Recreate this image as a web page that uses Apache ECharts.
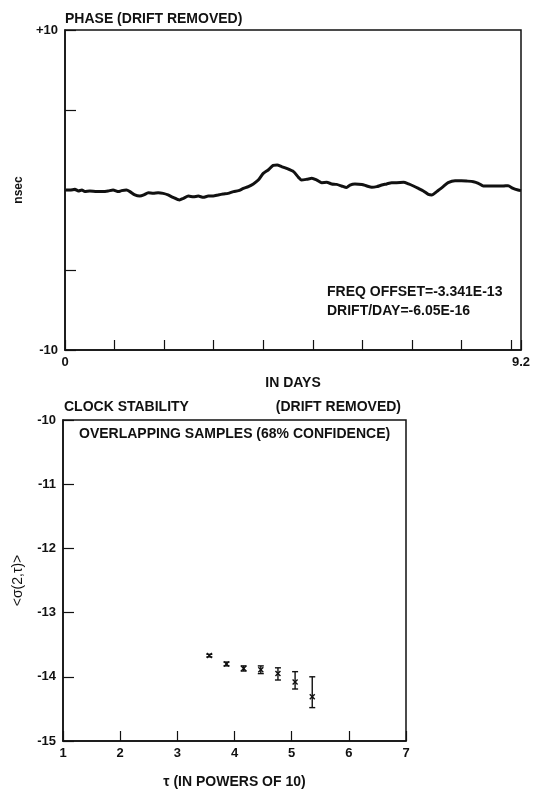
<!DOCTYPE html>
<html>
<head>
<meta charset="utf-8">
<script src="https://cdn.jsdelivr.net/npm/echarts@6/dist/echarts.min.js"></script>
<style>
html,body{margin:0;padding:0;background:#fff;}
#chart{width:534px;height:790px;}
</style>
</head>
<body>
<div id="chart"></div>
<script>
// Phase (drift removed), nsec vs days
const phaseDays = [0.02,0.10,0.20,0.27,0.34,0.40,0.50,0.64,0.77,0.87,0.97,1.08,1.14,1.24,1.31,1.41,1.51,1.59,1.68,1.78,1.88,1.98,2.08,2.18,2.31,2.39,2.49,2.59,2.69,2.79,2.89,2.99,3.09,3.19,3.29,3.40,3.50,3.60,3.70,3.80,3.90,4.00,4.10,4.20,4.28,4.37,4.47,4.61,4.71,4.77,4.88,4.98,5.08,5.18,5.28,5.38,5.48,5.58,5.68,5.75,5.85,5.99,6.09,6.19,6.29,6.39,6.49,6.59,6.69,6.83,6.93,7.03,7.13,7.23,7.33,7.40,7.50,7.63,7.73,7.87,8.00,8.10,8.24,8.34,8.44,8.57,8.71,8.84,8.94,9.04,9.14,9.20];
const phaseNsec = [0.00,0.00,0.04,-0.06,0.00,-0.10,-0.06,-0.10,-0.10,-0.06,0.00,-0.10,-0.04,0.00,-0.10,-0.31,-0.38,-0.31,-0.17,-0.21,-0.17,-0.21,-0.31,-0.46,-0.62,-0.52,-0.38,-0.42,-0.38,-0.46,-0.38,-0.38,-0.31,-0.25,-0.21,-0.10,-0.04,0.10,0.21,0.38,0.62,1.04,1.25,1.54,1.56,1.46,1.35,1.15,0.79,0.62,0.67,0.73,0.62,0.46,0.48,0.38,0.35,0.25,0.15,0.31,0.38,0.35,0.25,0.17,0.21,0.31,0.38,0.46,0.46,0.48,0.38,0.25,0.10,-0.06,-0.27,-0.31,-0.10,0.21,0.46,0.58,0.58,0.56,0.52,0.42,0.25,0.25,0.25,0.25,0.27,0.10,0.00,-0.04];
const phaseYTicks = {min:-10, max:10, step:5};
const phaseXTicks = {min:0, max:9.2, step:1};

// Clock stability: log10(tau) vs log10(sigma)
const tauLog = [3.56,3.86,4.16,4.46,4.76,5.06,5.36];
const sigmaLog = [-13.67,-13.80,-13.87,-13.89,-13.95,-14.08,-14.31];
const sigmaHigh = [-13.65,-13.77,-13.83,-13.83,-13.86,-13.92,-14.00];
const sigmaLow = [-13.69,-13.83,-13.91,-13.95,-14.05,-14.19,-14.48];
const stabXTicks = {min:1, max:7, step:1};
const stabYTicks = {min:-15, max:-10, step:1};

const FONT = '"Liberation Sans", Arial, sans-serif';
const INK = '#111';
const lbl = {color: INK, fontFamily: FONT, fontWeight: 'bold', fontSize: 13};
const big = Object.assign({}, lbl, {fontSize: 14});

const chart = echarts.init(document.getElementById('chart'), null, {renderer: 'canvas'});

const stabData = tauLog.map((t, i) => [t, sigmaLog[i], sigmaHigh[i], sigmaLow[i]]);

const option = {
  backgroundColor: '#fff',
  animation: false,
  title: [
    {text: 'PHASE (DRIFT REMOVED)', left: 65, top: 12, padding: 0, textStyle: big},
    {text: 'FREQ OFFSET=-3.341E-13', left: 327, top: 285, padding: 0, textStyle: big},
    {text: 'DRIFT/DAY=-6.05E-16', left: 327, top: 304, padding: 0, textStyle: big},
    {text: 'CLOCK STABILITY', left: 64, top: 400, padding: 0, textStyle: big},
    {text: '(DRIFT REMOVED)', right: 133, top: 400, padding: 0, textStyle: big},
    {text: 'OVERLAPPING SAMPLES (68% CONFIDENCE)', left: 79, top: 427, padding: 0, textStyle: big}
  ],
  grid: [
    {left: 65, top: 30, width: 456, height: 320, show: true, borderColor: INK, borderWidth: 1.5, containLabel: false},
    {left: 63, top: 420, width: 343, height: 324, show: true, borderColor: INK, borderWidth: 1.5, containLabel: false}
  ],
  xAxis: [
    {gridIndex: 0, type: 'value', min: phaseXTicks.min, max: phaseXTicks.max, interval: phaseXTicks.step,
     position: 'bottom', splitLine: {show: false},
     axisLine: {show: true, onZero: false, lineStyle: {color: INK, width: 1.5}},
     axisTick: {show: true, inside: true, length: 10, lineStyle: {color: INK, width: 1.2}},
     axisLabel: {show: false},
     name: 'IN DAYS', nameLocation: 'middle', nameGap: 26, nameTextStyle: big},
    {gridIndex: 0, type: 'value', min: phaseXTicks.min, max: phaseXTicks.max, interval: phaseXTicks.max,
     position: 'bottom', splitLine: {show: false}, axisLine: {show: false, onZero: false}, axisTick: {show: false},
     axisLabel: Object.assign({show: true, margin: 6, showMaxLabel: true, showMinLabel: true}, lbl)},
    {gridIndex: 1, type: 'value', min: stabXTicks.min, max: stabXTicks.max, interval: stabXTicks.step,
     position: 'bottom', splitLine: {show: false},
     axisLine: {show: true, onZero: false, lineStyle: {color: INK, width: 1.5}},
     axisTick: {show: true, inside: true, length: 10, lineStyle: {color: INK, width: 1.2}},
     axisLabel: Object.assign({show: true, margin: 6}, lbl),
     name: '\u03C4 (IN POWERS OF 10)', nameLocation: 'middle', nameGap: 34, nameTextStyle: big}
  ],
  yAxis: [
    {gridIndex: 0, type: 'value', min: phaseYTicks.min, max: phaseYTicks.max, interval: phaseYTicks.step,
     splitLine: {show: false},
     axisLine: {show: true, onZero: false, lineStyle: {color: INK, width: 1.5}},
     axisTick: {show: true, inside: true, length: 11, lineStyle: {color: INK, width: 1.2}},
     axisLabel: Object.assign({show: true, margin: 7, formatter: v => v === 10 ? '+10' : (v === -10 ? '-10' : '')}, lbl),
     name: 'nsec', nameLocation: 'middle', nameGap: 40, nameRotate: 90,
     nameTextStyle: Object.assign({}, lbl, {fontSize: 12})},
    {gridIndex: 1, type: 'value', min: stabYTicks.min, max: stabYTicks.max, interval: stabYTicks.step,
     splitLine: {show: false},
     axisLine: {show: true, onZero: false, lineStyle: {color: INK, width: 1.5}},
     axisTick: {show: true, inside: true, length: 11, lineStyle: {color: INK, width: 1.2}},
     axisLabel: Object.assign({show: true, margin: 7}, lbl),
     name: '<\u03C3(2,\u03C4)>', nameLocation: 'middle', nameGap: 38, nameRotate: 90,
     nameTextStyle: Object.assign({}, lbl, {fontWeight: 'normal', fontSize: 14})}
  ],
  series: [
    {type: 'line', xAxisIndex: 0, yAxisIndex: 0, showSymbol: false, smooth: 0.2,
     lineStyle: {color: INK, width: 3}, data: phaseDays.map((d, i) => [d, phaseNsec[i]])},
    {type: 'custom', xAxisIndex: 2, yAxisIndex: 1, data: stabData,
     renderItem: function (params, api) {
       const x = api.value(0);
       const c = api.coord([x, api.value(1)]);
       const hi = api.coord([x, api.value(2)]);
       const lo = api.coord([x, api.value(3)]);
       const cw = 3, m = 2.5;
       const st = {stroke: INK, lineWidth: 1.4};
       return {type: 'group', children: [
         {type: 'line', shape: {x1: c[0], y1: hi[1], x2: c[0], y2: lo[1]}, style: st},
         {type: 'line', shape: {x1: c[0] - cw, y1: hi[1], x2: c[0] + cw, y2: hi[1]}, style: st},
         {type: 'line', shape: {x1: c[0] - cw, y1: lo[1], x2: c[0] + cw, y2: lo[1]}, style: st},
         {type: 'line', shape: {x1: c[0] - m, y1: c[1] - m, x2: c[0] + m, y2: c[1] + m}, style: st},
         {type: 'line', shape: {x1: c[0] - m, y1: c[1] + m, x2: c[0] + m, y2: c[1] - m}, style: st}
       ]};
     }}
  ]
};
chart.setOption(option);
</script>
</body>
</html>
